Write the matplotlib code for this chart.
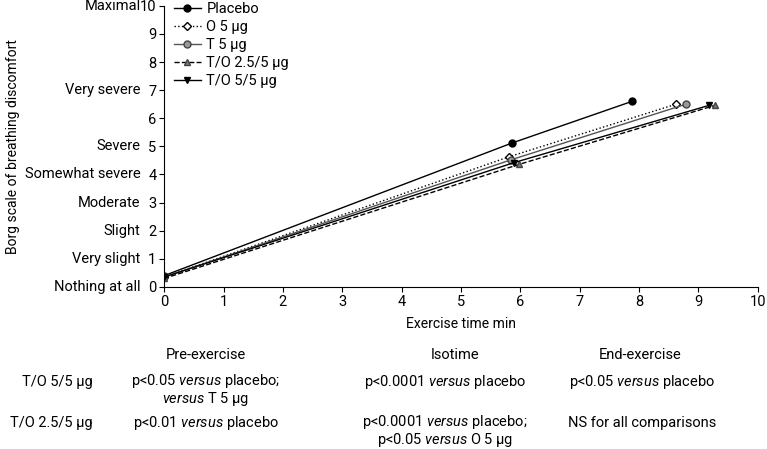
import matplotlib.pyplot as plt

plt.rcParams['font.family'] = ['Roboto', 'DejaVu Sans']
plt.rcParams['font.size'] = 9
plt.rcParams['mathtext.fontset'] = 'custom'
plt.rcParams['mathtext.rm'] = 'Roboto'
plt.rcParams['mathtext.it'] = 'Roboto:italic'

# time points (min) and Borg scores: pre-exercise, isotime, end-exercise
series = ["Placebo", "O 5 µg", "T 5 µg", "T/O 2.5/5 µg", "T/O 5/5 µg"]
placebo_x = [0, 5.86, 7.88]
placebo_y = [0.40, 5.12, 6.60]
o5_x = [0, 5.81, 8.62]
o5_y = [0.35, 4.63, 6.50]
t5_x = [0, 5.84, 8.79]
t5_y = [0.35, 4.52, 6.50]
to25_x = [0, 5.98, 9.28]
to25_y = [0.30, 4.36, 6.46]
to55_x = [0, 5.89, 9.18]
to55_y = [0.35, 4.42, 6.46]

borg_ticks = [0, 1, 2, 3, 4, 5, 7, 10]
borg_names = ["Nothing at all", "Very slight", "Slight", "Moderate",
              "Somewhat severe", "Severe", "Very severe", "Maximal"]

col_heads = ["Pre-exercise", "Isotime", "End-exercise"]
row_heads = ["T/O 5/5 µg", "T/O 2.5/5 µg"]
cells = [
    [[r"p<0.05 $\it{versus}$ placebo;", r"$\it{versus}$ T 5 µg"],
     [r"p<0.0001 $\it{versus}$ placebo"],
     [r"p<0.05 $\it{versus}$ placebo"]],
    [[r"p<0.01 $\it{versus}$ placebo"],
     [r"p<0.0001 $\it{versus}$ placebo;", r"p<0.05 $\it{versus}$ O 5 µg"],
     ["NS for all comparisons"]],
]

fig = plt.figure(figsize=(7.67, 4.49), dpi=100)
ax = fig.add_axes([0.214, 0.361, 0.774, 0.626])

ax.plot(placebo_x, placebo_y, '-', color='black', lw=1, marker='o', ms=5,
        mfc='black', label=series[0])
ax.plot(o5_x, o5_y, ':', color='black', lw=1, marker='D', ms=4,
        mfc='white', label=series[1])
ax.plot(t5_x, t5_y, '-', color='#555555', lw=1, marker='o', ms=5,
        mfc='#999999', mec='#444444', label=series[2])
ax.plot(to25_x, to25_y, '--', color='black', lw=1, marker='^', ms=5,
        mfc='#777777', mec='#444444', label=series[3])
ax.plot(to55_x, to55_y, '-', color='black', lw=1, marker='v', ms=5,
        mfc='black', label=series[4])

ax.set_xlim(0, 10)
ax.set_ylim(0, 10)
ax.set_xticks(range(0, 11))
ax.set_yticks(range(0, 11))
ax.spines['top'].set_visible(False)
ax.spines['right'].set_visible(False)
ax.tick_params(labelsize=10.5, color='black', pad=2)
ax.set_xlabel("Exercise time min", fontsize=10, labelpad=6)
ax.set_ylabel("Borg scale of breathing discomfort", fontsize=10)
ax.yaxis.set_label_coords(-0.243, 0.5)

for t, name in zip(borg_ticks, borg_names):
    ax.annotate(name, xy=(0, t), xycoords=('axes fraction', 'data'),
                xytext=(-17, 0), textcoords='offset points',
                ha='right', va='center', fontsize=10.5)

ax.legend(loc='upper left', bbox_to_anchor=(0.0, 1.05), frameon=False,
          fontsize=10.5, handlelength=1.8, labelspacing=0.28, handletextpad=0.4,
          borderaxespad=0.3)

# table below the chart
head_x = [206, 455, 640]
col_x = [206, 445, 642]
for x, h in zip(head_x, col_heads):
    fig.text(x / 767, 1 - 355 / 449, h, ha='center', va='center', fontsize=10.5)
row_y = [382, 423]
for r, (y, rh) in enumerate(zip(row_y, row_heads)):
    fig.text(93 / 767, 1 - y / 449, rh, ha='right', va='center', fontsize=10.5)
    for x, lines in zip(col_x, cells[r]):
        yc = y + 8 * (len(lines) - 1)
        fig.text(x / 767, 1 - yc / 449, "\n".join(lines), ha='center',
                 va='center', fontsize=10.5, linespacing=0.95)

fig.savefig("out.png", dpi=100)
